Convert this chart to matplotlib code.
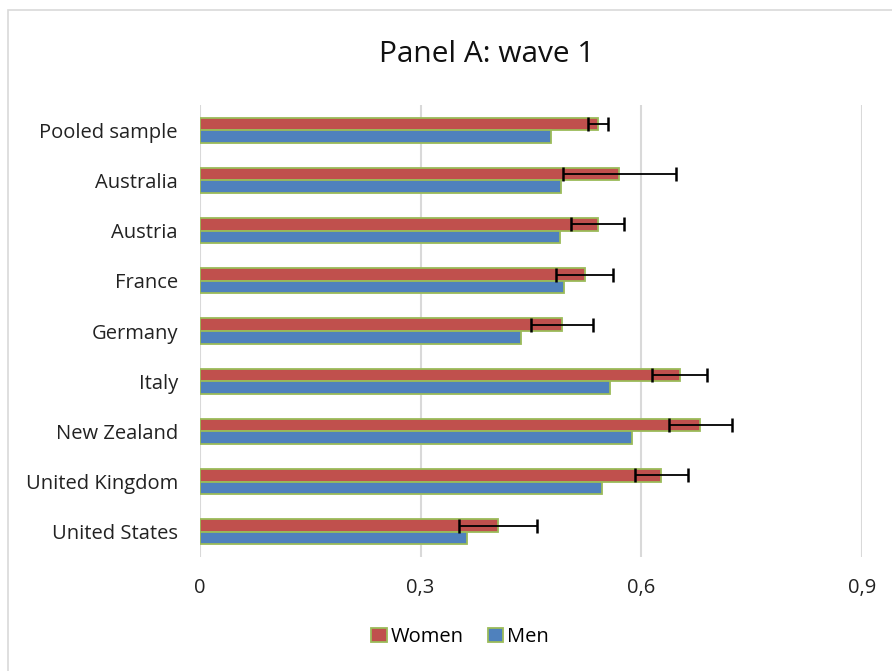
import numpy as np
import matplotlib
matplotlib.use("Agg")
import matplotlib.pyplot as plt
from matplotlib.patches import Rectangle, Patch

# data
countries = ["Pooled sample", "Australia", "Austria", "France", "Germany",
             "Italy", "New Zealand", "United Kingdom", "United States"]
women = [0.541, 0.570, 0.541, 0.523, 0.492, 0.652, 0.680, 0.627, 0.405]
women_err = [0.014, 0.077, 0.036, 0.039, 0.042, 0.037, 0.043, 0.036, 0.053]
men = [0.477, 0.491, 0.490, 0.495, 0.437, 0.558, 0.587, 0.547, 0.363]
xticks = [0, 0.3, 0.6, 0.9]
xtick_labels = ["0", "0,3", "0,6", "0,9"]

plt.rcParams['font.family'] = ['Open Sans', 'DejaVu Sans']

W, H = 892, 671
fig = plt.figure(figsize=(W / 100, H / 100), dpi=100)
ax = fig.add_axes([200 / W, (H - 557) / H, 662 / W, 452 / H])

red = "#C0504D"
blue = "#4F81BD"
green = "#9BBB59"

pos = np.arange(len(countries))
h = 0.25
ax.barh(pos - h / 2, women, height=h, color=red, edgecolor=green, linewidth=1.3, zorder=3)
ax.barh(pos + h / 2, men, height=h, color=blue, edgecolor=green, linewidth=1.3, zorder=3)
ax.errorbar(women, pos - h / 2, xerr=women_err, fmt="none", ecolor="black",
            elinewidth=1.3, capsize=5, capthick=1.8, zorder=4)

ax.set_ylim(len(countries) - 0.5, -0.5)
ax.set_xlim(0, 0.9)
ax.set_yticks(pos)
ax.set_yticklabels(countries, fontsize=14.5, color="#222222")
ax.set_xticks(xticks)
ax.set_xticklabels(xtick_labels, fontsize=14.5, color="#222222")
ax.tick_params(axis="y", length=0, pad=16)
ax.tick_params(axis="x", length=0, pad=15)
for s in ax.spines.values():
    s.set_visible(False)
ax.grid(axis="x", color="#D9D9D9", linewidth=1.5, zorder=0)
ax.set_axisbelow(True)

fig.text(487 / W, 1 - 55 / H, "Panel A: wave 1", ha="center", va="center",
         fontsize=21.5, color="#111111")

handles = [Patch(facecolor=red, edgecolor=green, linewidth=1.3, label="Women"),
           Patch(facecolor=blue, edgecolor=green, linewidth=1.3, label="Men")]
fig.legend(handles=handles, loc="center", bbox_to_anchor=(460 / W, 1 - 637 / H),
           ncol=2, frameon=False, fontsize=14.5, handlelength=0.75, handleheight=0.75,
           handletextpad=0.2, columnspacing=1.2)

# chart border (extends past the crop)
fig.patches.append(Rectangle((7.5 / W, -0.1), 1.2, (H - 9.5) / H + 0.1,
                             transform=fig.transFigure, fill=False,
                             edgecolor="#D9D9D9", linewidth=1.2))

fig.savefig("out.png", dpi=100)
